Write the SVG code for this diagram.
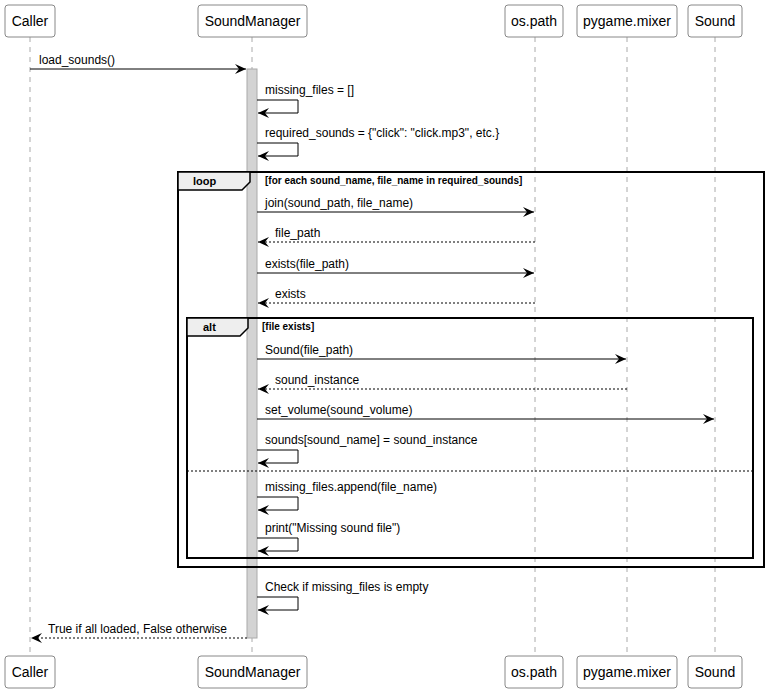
<svg xmlns="http://www.w3.org/2000/svg" width="768" height="693" viewBox="0 0 768 693">
<defs>
<style>
text{font-family:"Liberation Sans",Arial,sans-serif;font-size:12px;fill:#000}
.p rect{fill:#fff;stroke:#888;stroke-width:1}
.p text{font-size:14px;text-anchor:middle}
.ll{stroke:#aaa;stroke-dasharray:5,5;stroke-width:1}
.m{stroke:#000;stroke-width:1;fill:none}
.d{stroke-dasharray:2,2}
.fr{fill:none;stroke:#000;stroke-width:2}
.tab{fill:#eee;stroke:#000;stroke-width:1.5}
.b{font-weight:bold;font-size:11px}
</style>
<marker id="a" markerWidth="12" markerHeight="10" refX="11" refY="5" orient="auto" markerUnits="userSpaceOnUse"><path d="M0,0 L11,5 L0,10 L4,5 Z" fill="#000"/></marker>
</defs>
<rect width="768" height="693" fill="#fff"/>
<g id="lifelines">
<line class="ll" x1="30" y1="37" x2="30" y2="656"/>
<line class="ll" x1="252" y1="37" x2="252" y2="656"/>
<line class="ll" x1="535" y1="37" x2="535" y2="656"/>
<line class="ll" x1="627" y1="37" x2="627" y2="656"/>
<line class="ll" x1="715" y1="37" x2="715" y2="656"/>
</g>
<g id="p-caller" class="p"><rect x="5" y="5" width="50" height="32" rx="3"/><text x="30" y="26">Caller</text><rect x="5" y="656" width="50" height="32" rx="3"/><text x="30" y="677">Caller</text></g>
<g id="p-soundmanager" class="p"><rect x="198" y="5" width="109" height="32" rx="3"/><text x="252.5" y="26">SoundManager</text><rect x="198" y="656" width="109" height="32" rx="3"/><text x="252.5" y="677">SoundManager</text></g>
<g id="p-ospath" class="p"><rect x="505" y="5" width="58" height="32" rx="3"/><text x="534" y="26">os.path</text><rect x="505" y="656" width="58" height="32" rx="3"/><text x="534" y="677">os.path</text></g>
<g id="p-mixer" class="p"><rect x="577" y="5" width="100" height="32" rx="3"/><text x="627" y="26">pygame.mixer</text><rect x="577" y="656" width="100" height="32" rx="3"/><text x="627" y="677">pygame.mixer</text></g>
<g id="p-sound" class="p"><rect x="688" y="5" width="54" height="32" rx="3"/><text x="715" y="26">Sound</text><rect x="688" y="656" width="54" height="32" rx="3"/><text x="715" y="677">Sound</text></g>
<g id="activation"><rect x="247" y="69" width="10" height="569" fill="#d3d3d3" stroke="#aaa"/></g>
<g id="loop">
<rect class="fr" x="178" y="172" width="586" height="395"/>
<path class="tab" d="M178,172 H250 V182 L242,190 H178 Z"/>
<text class="b" x="193" y="185">loop</text>
<text class="b" x="265" y="184" style="font-size:10px">[for each sound_name, file_name in required_sounds]</text>
</g>
<g id="alt">
<rect class="fr" x="187" y="318" width="566" height="240"/>
<path class="tab" d="M187,318 H248 V328 L240,336 H187 Z"/>
<text class="b" x="203" y="331">alt</text>
<text class="b" x="262" y="330" style="font-size:10px">[file exists]</text>
<line x1="187" y1="471" x2="753" y2="471" stroke="#000" stroke-dasharray="2,2"/>
</g>
<g id="connectors">
<line class="m" x1="30" y1="69" x2="246" y2="69" marker-end="url(#a)"/>
<text x="39" y="64">load_sounds()</text>
<path class="m" d="M257,100 H298 V113 H258" marker-end="url(#a)"/>
<text x="265" y="94">missing_files = []</text>
<path class="m" d="M257,143 H298 V156 H258" marker-end="url(#a)"/>
<text x="265" y="137">required_sounds = {"click": "click.mp3", etc.}</text>
<line class="m" x1="257" y1="212" x2="534" y2="212" marker-end="url(#a)"/>
<text x="265" y="207">join(sound_path, file_name)</text>
<line class="m d" x1="535" y1="242" x2="258" y2="242" marker-end="url(#a)"/>
<text x="275" y="237">file_path</text>
<line class="m" x1="257" y1="273" x2="534" y2="273" marker-end="url(#a)"/>
<text x="265" y="268">exists(file_path)</text>
<line class="m d" x1="535" y1="303" x2="258" y2="303" marker-end="url(#a)"/>
<text x="275" y="298">exists</text>
<line class="m" x1="257" y1="359" x2="626" y2="359" marker-end="url(#a)"/>
<text x="265" y="354">Sound(file_path)</text>
<line class="m d" x1="627" y1="389" x2="258" y2="389" marker-end="url(#a)"/>
<text x="275" y="384">sound_instance</text>
<line class="m" x1="257" y1="419" x2="714" y2="419" marker-end="url(#a)"/>
<text x="265" y="414">set_volume(sound_volume)</text>
<path class="m" d="M257,450 H298 V463 H258" marker-end="url(#a)"/>
<text x="265" y="444">sounds[sound_name] = sound_instance</text>
<path class="m" d="M257,497 H298 V510 H258" marker-end="url(#a)"/>
<text x="265" y="491">missing_files.append(file_name)</text>
<path class="m" d="M257,538 H298 V551 H258" marker-end="url(#a)"/>
<text x="265" y="532">print("Missing sound file")</text>
<path class="m" d="M257,597 H298 V610 H258" marker-end="url(#a)"/>
<text x="265" y="591">Check if missing_files is empty</text>
<line class="m d" x1="247" y1="638" x2="31" y2="638" marker-end="url(#a)"/>
<text x="48" y="633">True if all loaded, False otherwise</text>
</g>
</svg>
